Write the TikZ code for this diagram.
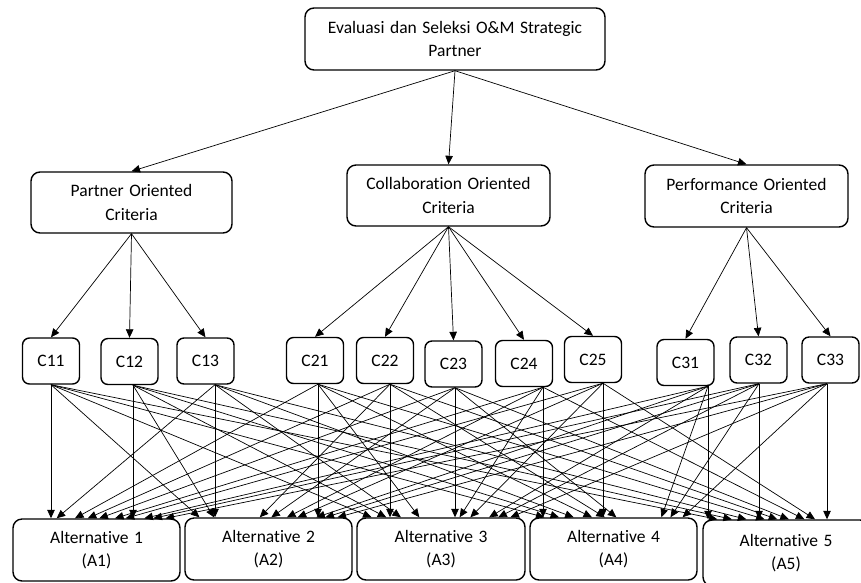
\documentclass[tikz,border=0pt]{standalone}
\usepackage{fontspec}
\setmainfont{Carlito}[Ligatures=NoCommon, WordSpace=1.4]
\usetikzlibrary{arrows.meta,calc}

\tikzset{
  box/.style={draw, line width=1.4pt, rounded corners=9pt, align=center,
    inner sep=0pt, font=\fontsize{17.5}{23.5}\selectfont},
  cbox/.style={box, minimum width=57pt, minimum height=46pt, rounded corners=7pt},
  altbox/.style={box, minimum width=167pt, minimum height=62pt},
  arr/.style={-{Triangle[length=8.5pt,width=7.5pt]}, line width=0.7pt},
}

\begin{document}
\begin{tikzpicture}[x=1pt, y=-1pt]
\useasboundingbox (0,0) rectangle (861,582);

% goal
\node[box, minimum width=300pt, minimum height=62pt] (G) at (455,39)
  {Evaluasi dan Seleksi O\&M Strategic\\Partner};

% criteria groups
\node[box, minimum width=201pt, minimum height=61pt] (PO) at (131.5,202.5)
  {Partner Oriented\\Criteria};
\node[box, minimum width=203pt, minimum height=61pt] (CO) at (448.5,195.5)
  {Collaboration Oriented\\Criteria};
\node[box, minimum width=203pt, minimum height=62pt] (PF) at (746.5,196)
  {Performance Oriented\\Criteria};

% sub-criteria
\node[cbox] (C11) at (51,361)    {C11};
\node[cbox] (C12) at (129.5,361.5) {C12};
\node[cbox] (C13) at (205.5,361) {C13};
\node[cbox] (C21) at (315,360.5) {C21};
\node[cbox] (C22) at (385,360.5) {C22};
\node[cbox] (C23) at (453.5,364) {C23};
\node[cbox] (C24) at (524,363.5) {C24};
\node[cbox] (C25) at (593,359.5) {C25};
\node[cbox] (C31) at (685.5,362.5) {C31};
\node[cbox] (C32) at (758.5,360) {C32};
\node[cbox] (C33) at (830.5,360) {C33};

% alternatives
\node[altbox] (A1) at (96.5,550)  {Alternative 1\\(A1)};
\node[altbox] (A2) at (268.5,549) {Alternative 2\\(A2)};
\node[altbox, minimum width=168pt] (A3) at (441,549) {Alternative 3\\(A3)};
\node[altbox] (A4) at (613.5,549) {Alternative 4\\(A4)};
\node[altbox, minimum width=166pt, minimum height=66pt] (A5) at (786,553) {Alternative 5\\(A5)};

% goal to criteria groups
\draw[arr] (G.south) -- (PO.north);
\draw[arr] (G.south) -- (CO.north);
\draw[arr] (G.south) -- (PF.north);

% criteria groups to sub-criteria
\foreach \c in {C11,C12,C13} \draw[arr] (PO.south) -- (\c.north);
\foreach \c in {C21,C22,C23,C24,C25} \draw[arr] (CO.south) -- (\c.north);
\foreach \c in {C31,C32,C33} \draw[arr] (PF.south) -- (\c.north);

% every sub-criterion to every alternative
\foreach \c/\v/\t in {C11/51/1, C12/133/1, C13/215/2, C21/318/2, C22/390/3,
                      C23/455/3, C24/543/4, C25/603/4, C31/708/5, C32/759/5, C33/827/5} {
  \coordinate (vx) at (\v,0);
  \foreach \a in {1,...,5} {
    \ifnum\a=\t\relax
      \draw[arr] (\c.south -| vx) -- (A\a.north -| vx);
    \else
      \pgfmathsetmacro\f{0.09+0.82*(\v-51)/776}
      \draw[arr] (\c.south -| vx) -- ($(A\a.north west)!\f!(A\a.north east)$);
    \fi
  }
}
\end{tikzpicture}
\end{document}
